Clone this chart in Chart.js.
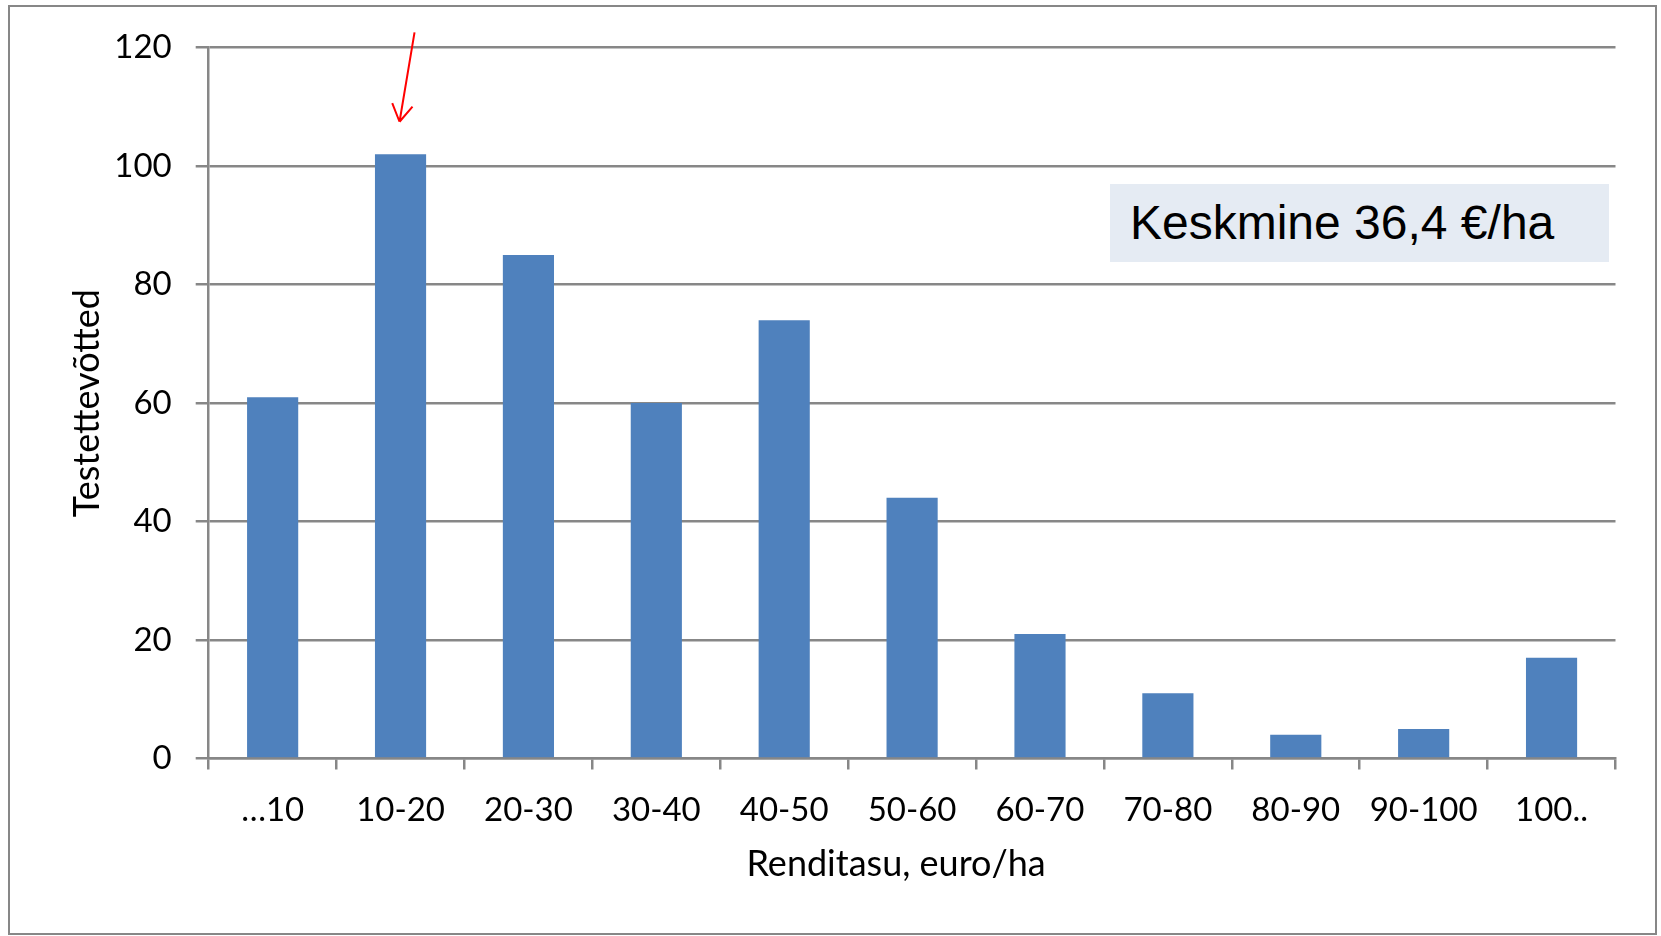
<!DOCTYPE html>
<html>
<head>
<meta charset="utf-8">
<script src="https://cdn.jsdelivr.net/npm/chart.js@4.4.1/dist/chart.umd.min.js"></script>
<style>
    body { margin: 0; background: #fff; }
    #wrap { position: relative; width: 1661px; height: 936px; }
    #frame {
        position: absolute; left: 8px; top: 5px; width: 1649px; height: 930px;
        box-sizing: border-box; border: 2px solid #878787; pointer-events: none;
    }
    #note {
        position: absolute; left: 1110px; top: 184px; width: 499px; height: 78px;
        background: #e5ebf3; box-sizing: border-box; padding-left: 20px;
        font-family: "Liberation Sans", Arial, sans-serif; font-size: 48px;
        line-height: 78px; color: #000; white-space: nowrap;
    }
</style>
</head>
<body>
<div id="wrap">
    <canvas id="chart"></canvas>
    <div id="frame"></div>
    <div id="note">Keskmine 36,4 €/ha</div>
</div>
<script>
// Data
const categories = ['…10', '10-20', '20-30', '30-40', '40-50', '50-60', '60-70', '70-80', '80-90', '90-100', '100..'];
const farmCounts = [61, 102, 85, 60, 74, 44, 21, 11, 4, 5, 17];
const yTicks = { min: 0, max: 120, step: 20 };
const arrowCategory = '10-20';
const xTitle = 'Renditasu, euro/ha';

const gray = '#878787';
const fontFamily = 'Lato, "Open Sans", sans-serif';
const labelFont = { family: fontFamily, size: 33 };
const titleFont = { family: fontFamily, size: 36 };

// Red arrow pointing at the tallest bar, plus the x axis title
const extrasPlugin = {
    id: 'extras',
    afterDraw(chart) {
        const { ctx, chartArea, scales: { x, y } } = chart;
        const cx = x.getPixelForValue(categories.indexOf(arrowCategory));
        const tipX = cx - 1, tipY = y.getPixelForValue(107.5);
        const tailX = cx + 14, tailY = y.getPixelForValue(122.6);
        const back = Math.atan2(tailY - tipY, tailX - tipX);
        ctx.save();
        ctx.strokeStyle = '#ff0000';
        ctx.lineWidth = 2;
        ctx.beginPath();
        ctx.moveTo(tailX, tailY);
        ctx.lineTo(tipX, tipY);
        [-0.54, 0.54].forEach(a => {
            ctx.moveTo(tipX, tipY);
            ctx.lineTo(tipX + 20 * Math.cos(back + a), tipY + 20 * Math.sin(back + a));
        });
        ctx.stroke();

        // x title sits a little left of the plot centre, like the original
        ctx.fillStyle = '#000';
        ctx.font = `${titleFont.size}px ${fontFamily}`;
        ctx.textAlign = 'center';
        ctx.textBaseline = 'middle';
        ctx.fillText(xTitle, (chartArea.left + chartArea.right) / 2 - 16, chartArea.bottom + 106);
        ctx.restore();
    }
};

new Chart(document.getElementById('chart'), {
    type: 'bar',
    data: {
        labels: categories,
        datasets: [{
            data: farmCounts,
            backgroundColor: '#4f81bd',
            barPercentage: 0.4,
            categoryPercentage: 1.0
        }]
    },
    options: {
        responsive: true,
        maintainAspectRatio: false,
        animation: false,
        layout: { padding: { top: 47.7, right: 45.5, left: 0, bottom: 0 } },
        plugins: {
            legend: { display: false },
            tooltip: { enabled: false }
        },
        scales: {
            x: {
                afterFit: (scale) => { scale.height = 177.5; },
                grid: {
                    offset: true,
                    drawOnChartArea: false,
                    drawTicks: true,
                    tickLength: 11,
                    color: gray,
                    lineWidth: 2.5
                },
                border: { display: true, color: gray, width: 2.5 },
                ticks: { font: labelFont, color: '#000', padding: 21, maxRotation: 0, autoSkip: false }
            },
            y: {
                min: yTicks.min,
                max: yTicks.max,
                afterFit: (scale) => { scale.width = 208.7; },
                grid: {
                    drawTicks: true,
                    tickLength: 13,
                    color: gray,
                    lineWidth: 2.5
                },
                border: { display: true, color: gray, width: 2.5 },
                ticks: { stepSize: yTicks.step, font: labelFont, color: '#000', padding: 24 },
                title: {
                    display: true,
                    text: 'Testettevõtted',
                    font: titleFont,
                    color: '#000',
                    padding: { top: 66, bottom: 0 }
                }
            }
        }
    },
    plugins: [extrasPlugin]
});
</script>
</body>
</html>
